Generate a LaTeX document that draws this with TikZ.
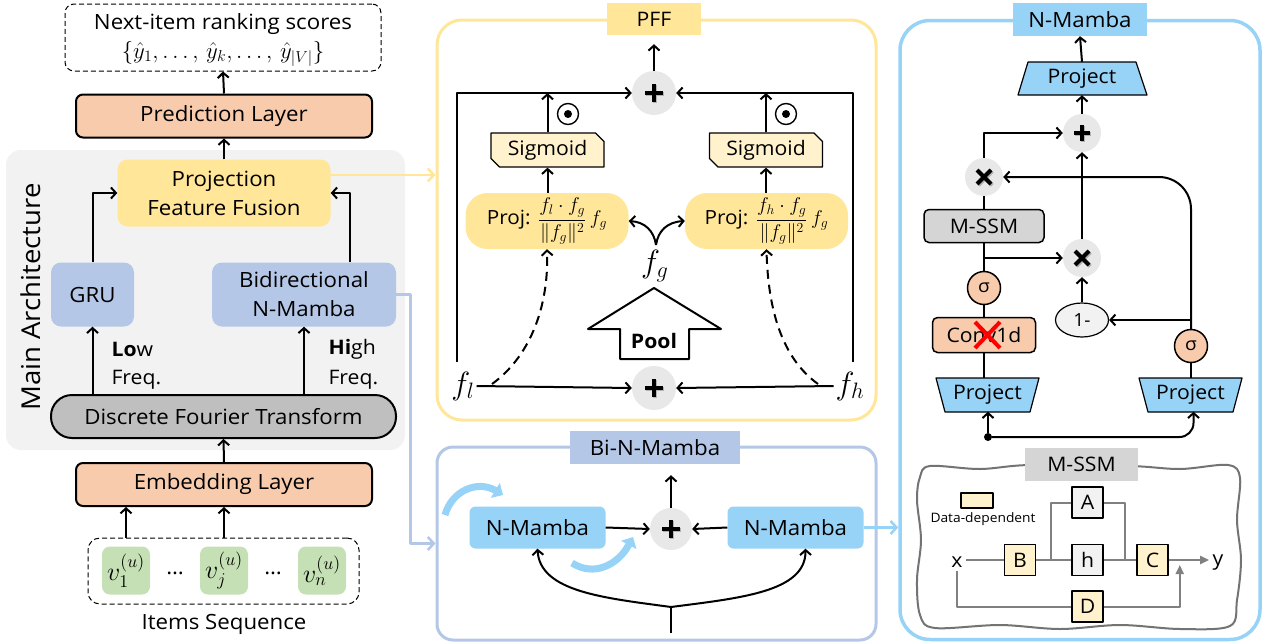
\documentclass[tikz,border=0pt]{standalone}
\usepackage{amsmath}
\usepackage{fontspec}
\setmainfont[FakeStretch=1.06]{Open Sans}
\usetikzlibrary{arrows.meta,shapes.misc,shapes.geometric,calc}
\definecolor{salmon}{HTML}{F8CBAD}
\definecolor{pffy}{HTML}{FFE699}
\definecolor{lighty}{HTML}{FFF2CC}
\definecolor{bilue}{HTML}{B4C7E7}
\definecolor{skyb}{HTML}{97D3F6}
\definecolor{leaf}{HTML}{C5E0B4}
\definecolor{bgray}{HTML}{F2F2F2}
\definecolor{dftgray}{HTML}{BFBFBF}
\definecolor{ssmgray}{HTML}{D5D5D5}
\definecolor{wiregray}{HTML}{808080}
\newcommand{\myfs}[1]{\fontsize{#1}{#1}\selectfont}
\newcommand{\mkplus}[2]{%
  \draw[line width=4pt, black!30] ([shift={(-#2+1.3pt,-1.3pt)}]#1.center) -- ([shift={(#2+1.3pt,-1.3pt)}]#1.center)
    ([shift={(1.3pt,-#2-1.3pt)}]#1.center) -- ([shift={(1.3pt,#2-1.3pt)}]#1.center);
  \draw[line width=4pt] ([xshift=-#2]#1.center) -- ([xshift=#2]#1.center)
    ([yshift=-#2]#1.center) -- ([yshift=#2]#1.center);}
\newcommand{\mkcross}[2]{%
  \draw[line width=4pt, black!30] ([shift={(-#2+1.3pt,-#2-1.3pt)}]#1.center) -- ([shift={(#2+1.3pt,#2-1.3pt)}]#1.center)
    ([shift={(-#2+1.3pt,#2-1.3pt)}]#1.center) -- ([shift={(#2+1.3pt,-#2-1.3pt)}]#1.center);
  \draw[line width=4pt] ([shift={(-#2,-#2)}]#1.center) -- ([shift={(#2,#2)}]#1.center)
    ([shift={(-#2,#2)}]#1.center) -- ([shift={(#2,-#2)}]#1.center);}
\begin{document}
\begin{tikzpicture}[x=1pt,y=-1pt, font=\myfs{21}, line join=round,
  arr/.style={line width=2pt,-{Straight Barb[length=5pt,width=11pt]}},
  ln/.style={line width=2pt},
  rbox/.style={rounded corners=#1, inner sep=0pt, align=center},
  sumc/.style={circle, fill=black!9, inner sep=0pt, minimum size=#1},
  sigbox/.style={chamfered rectangle, chamfered rectangle corners={north east,south west}, chamfered rectangle xsep=5pt, draw, line width=1.3pt, fill=lighty, minimum width=113pt, minimum height=34pt, inner sep=0pt, font=\myfs{20}},
  odot/.style={circle, draw, line width=1.4pt, minimum size=21pt, inner sep=0pt},
  sigc/.style={circle, fill=salmon, draw, line width=1.5pt, minimum size=33pt, inner sep=0pt, font=\myfs{18}},
  ssmb/.style={draw, line width=1.5pt, minimum size=31pt, inner sep=0pt, font=\myfs{20}},
  wire/.style={wiregray, line width=2pt},
  bigarr/.style={skyb, line width=7pt, -{Triangle[length=9pt,width=17pt]}},
  trapt/.style={minimum height=33pt, inner sep=0pt, font=\myfs{20}},
  bigmath/.style={font=\myfs{20}, scale=1.55, inner sep=1pt},
  itemv/.style={rounded corners=8pt, fill=leaf, minimum size=48pt, inner sep=0pt}
]
\useasboundingbox (0,0) rectangle (1264,643);

% ---------- panels ----------
\node[fill=bgray, rounded corners=15pt, minimum width=399pt, minimum height=300pt] (mainbg) at (205.5,300) {};
\node[draw=pffy, line width=3pt, rounded corners=25pt, minimum width=439pt, minimum height=400pt] (pffp) at (656.5,220) {};
\node[draw=bilue, line width=3pt, rounded corners=16pt, minimum width=439pt, minimum height=193pt] (bip) at (656.5,543.5) {};
\node[draw=skyb, line width=3.5pt, rounded corners=30pt, minimum width=360pt, minimum height=619pt] (nmp) at (1080,330) {};

% ---------- left column ----------
\node[draw, dash pattern=on 5pt off 3pt, line width=1pt, rounded corners=9pt, minimum width=316pt, minimum height=67pt] (outbox) at (223,37.5) {};
\node (outa) at (223,24) {Next-item ranking scores};
\node[font=\myfs{20}, scale=1.1] (outb) at (223,54) {$\{\hat{y}_1,\ldots,\,\hat{y}_k,\ldots,\,\hat{y}_{|V|}\}$};
\node[rbox=7pt, fill=salmon, draw, line width=2pt, minimum width=296pt, minimum height=43pt] (pred) at (224,116) {Prediction Layer};
\draw[arr] (pred.north) -- (outbox.south);
\node[rbox=10pt, fill=pffy, minimum width=213pt, minimum height=67pt] (pff) at (224,193) {Projection\\[8pt]Feature Fusion};
\draw[arr] (pff.north) -- (pred.south);
\node[rbox=10pt, fill=bilue, minimum width=83pt, minimum height=64pt] (gru) at (92.5,294.5) {GRU};
\node[rbox=10pt, fill=bilue, minimum width=184pt, minimum height=64pt] (bin) at (304,294.5) {Bidirectional\\[8pt]N-Mamba};
\draw[arr] (gru.north) |- (pff.west);
\draw[arr] ([xshift=46pt]bin.north) |- (pff.east);
\node[rbox=21pt, fill=dftgray, draw, line width=2pt, minimum width=345pt, minimum height=43pt] (dft) at (223.5,416.5) {Discrete Fourier Transform};
\draw[arr] (dft.north -| gru.south) -- (gru.south);
\draw[arr] (dft.north -| bin.south) -- (bin.south);
\node[anchor=west, font=\myfs{20}] (lowa) at (108,349) {\textbf{Lo}w};
\node[anchor=west, font=\myfs{20}] (lowb) at (108,380) {Freq.};
\node[anchor=west, font=\myfs{20}] (higha) at (325,349) {\textbf{Hi}gh};
\node[anchor=west, font=\myfs{20}] (highb) at (325,380) {Freq.};
\node[rbox=7pt, fill=salmon, draw, line width=2pt, minimum width=296pt, minimum height=43pt] (emb) at (224,484.5) {Embedding Layer};
\draw[arr] (emb.north) -- (dft.south);
\node[draw, dash pattern=on 5pt off 3pt, line width=1pt, rounded corners=12pt, minimum width=271pt, minimum height=66pt] (items) at (223.5,571) {};
\node[itemv] (v1) at (126,570.5) {};
\node[itemv] (vj) at (224,570.5) {};
\node[itemv] (vn) at (322,570.5) {};
\node[font=\myfs{20}, scale=1.25] (v1t) at (126,570.5) {$v_1^{(u)}$};
\node[font=\myfs{20}, scale=1.25] (vjt) at (224,570.5) {$v_j^{(u)}$};
\node[font=\myfs{20}, scale=1.25] (vnt) at (322,570.5) {$v_n^{(u)}$};
\node (d1) at (175,573) {\dots};
\node (d2) at (273,573) {\dots};
\draw[arr] (items.north -| v1) -- (emb.south -| v1);
\draw[arr] (items.north -| vj) -- (emb.south -| vj);
\node (iseq) at (224,624) {Items Sequence};
\node[rotate=90, font=\myfs{26}] (mainlbl) at (31,297) {Main Architecture};

% connectors to panels
\coordinate (pffo) at ([yshift=18pt]pff.east);
\draw[pffy, line width=2.5pt, -{Straight Barb[length=6pt,width=13pt]}] (pffo) -- (pffo -| pffp.west);
\draw[bilue, line width=2.5pt, -{Straight Barb[length=6pt,width=13pt]}] (bin.east) -| ([xshift=-25pt]bip.west) -- (bip.west);

% ---------- PFF panel ----------
\node[fill=pffy, minimum width=94pt, minimum height=32pt, inner sep=0pt, font=\myfs{20}] (pfft) at (654,19) {PFF};
\node[sumc=44pt] (s1) at (654,93) {}; \mkplus{s1}{9pt}
\draw[arr, shorten >=9pt] (s1.north) -- (pfft.south);
\node[bigmath] (fl) at (463,386) {$f_l$};
\node[bigmath] (fh) at (850,386) {$f_h$};
\node[sumc=44pt] (s2) at (654,388) {}; \mkplus{s2}{9pt}
\coordinate (lrail) at (457,362);
\coordinate (rrail) at (853,362);
\draw[arr] (lrail) |- (s1.west);
\draw[arr] (rrail) |- (s1.east);
\node[sigbox] (sg1) at (547.5,150) {Sigmoid};
\node[sigbox] (sg2) at (766,150) {Sigmoid};
\draw[arr] (sg1.north) -- (sg1.north |- s1.center);
\draw[arr] (sg2.north) -- (sg2.north |- s1.center);
\node[odot] (od1) at (568,114) {}; \fill (od1.center) circle (4pt);
\node[odot] (od2) at (786,114) {}; \fill (od2.center) circle (4pt);
\node[rbox=22pt, fill=pffy, minimum width=163pt, minimum height=56pt] (pj1) at (547,221) {};
\node[rbox=22pt, fill=pffy, minimum width=163pt, minimum height=56pt] (pj2) at (766.5,221) {};
\node[font=\myfs{17}, scale=1.15] (pj1t) at (547,221) {Proj: $\dfrac{f_l\cdot f_g}{\lVert f_g\rVert^2}\,f_g$};
\node[font=\myfs{17}, scale=1.15] (pj2t) at (766.5,221) {Proj: $\dfrac{f_h\cdot f_g}{\lVert f_g\rVert^2}\,f_g$};
\draw[arr] (pj1.north -| sg1.south) -- (sg1.south);
\draw[arr] (pj2.north -| sg2.south) -- (sg2.south);
\node[bigmath] (fg) at (655,266) {$f_g$};
\coordinate (fgj) at (656,245);
\draw[arr] (fgj) .. controls (654,231) and (645,222) .. (pj1.east);
\draw[arr] (fgj) .. controls (658,231) and (667,222) .. (pj2.west);
\draw[line width=2pt, fill=white] (620,359) -- (620,329) -- (588,329) -- (654,288) -- (721,329) -- (689,329) -- (689,359) -- cycle;
\node[font=\bfseries\myfs{20}] (pool) at (654,341) {Pool};
\draw[arr] (fl.east) -- (s2.west);
\draw[arr] (fh.west) -- (s2.east);
\coordinate (dl) at (492,384);
\coordinate (dr) at (818,384);
\draw[arr, dash pattern=on 9pt off 6pt] (dl) .. controls (528,358) and (549,310) .. (pj1.south);
\draw[arr, dash pattern=on 9pt off 6pt] (dr) .. controls (782,358) and (768,310) .. (pj2.south);

% ---------- Bi-N-Mamba panel ----------
\node[fill=bilue, minimum width=170pt, minimum height=33pt, inner sep=0pt] (bit) at (655,447.5) {Bi-N-Mamba};
\node[rbox=6pt, fill=skyb, minimum width=136pt, minimum height=42pt] (nm1) at (537.5,527.5) {N-Mamba};
\node[rbox=6pt, fill=skyb, minimum width=136pt, minimum height=42pt] (nm2) at (795.5,527.5) {N-Mamba};
\node[sumc=42pt] (s3) at (671,529) {}; \mkplus{s3}{9pt}
\draw[arr] (nm1.east) -- (s3.west);
\draw[arr] (nm2.west) -- (s3.east);
\draw[arr, shorten >=11pt] (s3.north) -- (s3.north |- bit.south);
\coordinate (bb) at (671,633);
\coordinate (bj) at (671,607);
\draw[ln] (bb) -- (bj);
\draw[arr] (bj) .. controls (605,598) and (540,592) .. (nm1.south);
\draw[arr] (bj) .. controls (740,598) and (806,592) .. ([xshift=10pt]nm2.south);
\draw[bigarr] (445,515) .. controls (452,490) and (478,480) .. (503,495);
\draw[bigarr] (572,563) .. controls (594,577) and (618,565) .. (633,537);
\draw[skyb, line width=2.5pt, -{Straight Barb[length=6pt,width=13pt]}] (nm2.east) -- (nm2.east -| nmp.west);

% ---------- N-Mamba panel ----------
\node[fill=skyb, minimum width=134pt, minimum height=33pt, inner sep=0pt] (nmt) at (1080,19.5) {N-Mamba};
\draw[fill=skyb, line width=1.2pt] (1028,62) -- (1136,62) -- (1147,95) -- (1018,95) -- cycle;
\node[trapt, minimum width=108pt] (pjt) at (1082,78.5) {Project};
\draw[arr] (pjt.north) -- (nmt.south);
\node[sumc=38pt] (s4) at (1082,133) {}; \mkplus{s4}{8pt}
\draw[arr] (s4.north) -- (pjt.south);
\node[sumc=38pt] (m1) at (984,177) {}; \mkcross{m1}{7pt}
\draw[arr] (m1.north) |- (s4.west);
\node[rbox=5pt, fill=ssmgray, draw, line width=1.5pt, minimum width=120pt, minimum height=33pt, font=\myfs{20}] (mssm) at (984,226) {M-SSM};
\draw[ln] (mssm.north) -- (m1.south);
\node[sumc=38pt] (m2) at (1082,258) {}; \mkcross{m2}{7pt}
\draw[arr] (m2.north) -- (s4.south);
\node[sigc] (sgl) at (984,288) {σ};
\draw[ln] (mssm.south) -- (sgl.north);
\draw[arr] (mssm.south |- m2.west) -- (m2.west);
\node[rbox=5pt, fill=salmon, draw, line width=1.5pt, minimum width=103pt, minimum height=35pt, font=\myfs{20}] (conv) at (984,335) {Conv1d};
\draw[red, line width=4pt] (975,322) -- (1000,348) (1000,322) -- (975,348);
\draw[ln] (sgl.south) -- (conv.north);
\draw[fill=skyb, line width=1.2pt] (936,378) -- (1039,378) -- (1030,412) -- (945,412) -- cycle;
\node[trapt, minimum width=85pt] (pjl) at (987.5,395) {Project};
\draw[ln] (conv.south) -- (conv.south |- pjl.north);
\draw[fill=skyb, line width=1.2pt] (1139,378) -- (1242,378) -- (1233,412) -- (1148,412) -- cycle;
\node[trapt, minimum width=85pt] (pjr) at (1190.5,395) {Project};
\node[sigc] (sgr) at (1191,346) {σ};
\draw[ln] (pjr.north -| sgr.south) -- (sgr.south);
\draw[arr, rounded corners=32pt] (sgr.north) |- (m1.east);
\node[ellipse, fill=bgray, draw, line width=1.2pt, minimum width=53pt, minimum height=34pt, inner sep=0pt, font=\myfs{18}] (om) at (1082,320) {1-};
\draw[arr] (sgr.north |- om.east) -- (om.east);
\draw[arr] (om.north) -- (m2.south);
\node[circle, fill, inner sep=0pt, minimum size=8pt] (dot) at (988,437) {};
\draw[arr] (dot) -- (dot |- pjl.south);
\draw[arr, rounded corners=14pt] (dot) -| ([xshift=3pt]pjr.south);

% ---------- M-SSM sub panel ----------
\draw[line width=2pt, black!55] plot[smooth cycle, tension=0.55] coordinates {(930,466) (980,469) (1030,465) (1130,466) (1180,469) (1228,465) (1240,478) (1237,520) (1241,560) (1237,600) (1230,626) (1180,629) (1120,625) (1060,629) (1000,625) (935,628) (920,615) (917,580) (921,540) (917,500) (920,477)};
\node[fill=ssmgray, minimum width=113pt, minimum height=33pt, inner sep=0pt, font=\myfs{20}] (ssmt) at (1081.5,464.5) {M-SSM};
\node[draw, fill=lighty, line width=1.2pt, minimum width=32pt, minimum height=15pt, inner sep=0pt] (leg) at (977,500.5) {};
\node[font=\myfs{13}] (legt) at (983,519) {Data-dependent};
\node[font=\myfs{20}] (xl) at (957,562) {x};
\node[ssmb, fill=lighty] (bB) at (1020,560) {B};
\node[ssmb, fill=bgray] (bh) at (1087.5,560) {h};
\node[ssmb, fill=bgray] (bA) at (1087.5,502.5) {A};
\node[ssmb, fill=lighty] (bC) at (1152.5,560) {C};
\node[ssmb, fill=lighty] (bD) at (1087.5,606.5) {D};
\node[font=\myfs{20}] (yl) at (1218,563) {y};
\draw[wire] (xl.east |- bB.west) -- (bB.west);
\draw[wire] (bB.east) -- (bh.west);
\coordinate (j1) at ([xshift=15pt]bB.east);
\draw[wire] (j1) |- (bA.west);
\coordinate (j2) at ([xshift=-11pt]bC.west);
\draw[wire] (bA.east) -| (j2);
\draw[wire] (bh.east) -- (bC.west);
\draw[wire, -{Triangle[length=9pt,width=8pt]}] (bC.east) -- (yl.west |- bC.east);
\draw[wire] (xl.south) |- (bD.west);
\coordinate (j3) at ([xshift=11pt,yshift=-5pt]bC.east);
\draw[wire, -{Triangle[length=9pt,width=8pt]}] (bD.east) -| (j3);
\end{tikzpicture}
\end{document}
